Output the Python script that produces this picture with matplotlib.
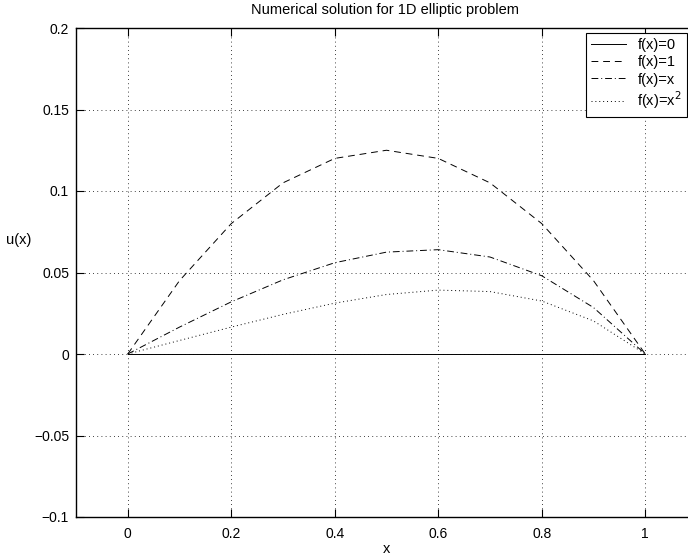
import matplotlib
matplotlib.use("Agg")
import matplotlib.pyplot as plt

plt.rcParams["font.family"] = ["Liberation Sans", "DejaVu Sans"]

# grid points and values
x = [0.0, 0.1, 0.2, 0.3, 0.4, 0.5, 0.6, 0.7, 0.8, 0.9, 1.0]
u_f0 = [0, 0, 0, 0, 0, 0, 0, 0, 0, 0, 0]
u_f1 = [0, 0.045, 0.080, 0.105, 0.120, 0.125, 0.120, 0.105, 0.080, 0.045, 0]
u_fx = [0, 0.0165, 0.032, 0.0455, 0.056, 0.0625, 0.064, 0.0595, 0.048, 0.0285, 0]
u_fx2 = [0, 0.0083, 0.0165, 0.0243, 0.0312, 0.0365, 0.0392, 0.0383, 0.0325, 0.0203, 0]

labels = ["f(x)=0", "f(x)=1", "f(x)=x", "f(x)=x$^2$"]
xticks = [0, 0.2, 0.4, 0.6, 0.8, 1]
yticks = [-0.1, -0.05, 0, 0.05, 0.1, 0.15, 0.2]
ytick_labels = ["\u22120.1", "\u22120.05", "0", "0.05", "0.1", "0.15", "0.2"]

fig = plt.figure(figsize=(6.88, 5.59), dpi=100)
ax = fig.add_axes([76 / 688, 42 / 559, 621 / 688, 489 / 559])

ax.plot(x, u_f0, color="black", linestyle="-", linewidth=0.7, label=labels[0])
ax.plot(x, u_f1, color="black", linestyle=(0, (7, 5)), linewidth=0.7, label=labels[1])
ax.plot(x, u_fx, color="black", linestyle=(0, (7, 3, 1, 3)), linewidth=0.7, label=labels[2])
ax.plot(x, u_fx2, color="black", linestyle=(0, (1, 3)), linewidth=0.7, label=labels[3])

ax.set_xlim(-0.1, 1.1)
ax.set_ylim(-0.1, 0.2)
ax.set_xticks(xticks)
ax.set_xticklabels([f"{t:g}" for t in xticks])
ax.set_yticks(yticks)
ax.set_yticklabels(ytick_labels)
ax.tick_params(direction="in", length=6, width=0.8, labelsize=10,
               top=True, right=True, colors="black")
ax.tick_params(axis="x", pad=7)
ax.tick_params(axis="y", pad=5)
ax.grid(True, linestyle=(0, (1, 4)), color="black", linewidth=0.6)
for sp in ax.spines.values():
    sp.set_linewidth(1.0)

fig.text(385 / 688, 1 - 10 / 559, "Numerical solution for 1D elliptic problem",
         fontsize=10.5, ha="center", va="center")
ax.set_xlabel("x", fontsize=10.5, labelpad=1)
ax.set_ylabel("u(x)", fontsize=10.5, rotation=0, va="center", ha="center")
ax.yaxis.set_label_coords(-0.093, 0.566)

leg = ax.legend(loc="upper right", bbox_to_anchor=(687 / 688, 526 / 559),
                bbox_transform=fig.transFigure, fontsize=10.5, fancybox=False,
                framealpha=1, edgecolor="black", borderpad=0.35,
                labelspacing=0.22, handlelength=2.4, handletextpad=0.75,
                borderaxespad=0)
leg.get_frame().set_linewidth(0.8)

fig.savefig("out.png", dpi=100)
